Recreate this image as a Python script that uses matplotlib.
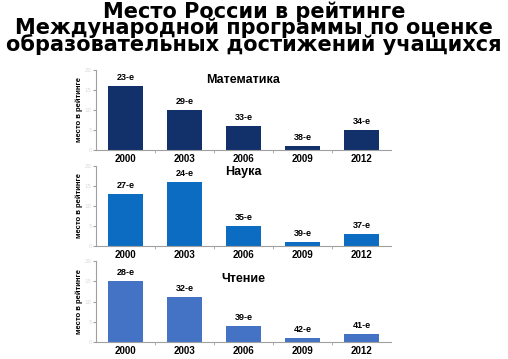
import matplotlib
matplotlib.use("Agg")
import matplotlib.pyplot as plt

years = ["2000", "2003", "2006", "2009", "2012"]
math_rank = [23, 29, 33, 38, 34]
sci_rank = [27, 24, 35, 39, 37]
read_rank = [28, 32, 39, 42, 41]
# bar heights as drawn in the reference (inverted rank scale)
math_vals = [16, 10, 6, 1, 5]
sci_vals = [13, 16, 5, 1, 3]
read_vals = [15, 11, 4, 1, 2]
panel_titles = ["Математика", "Наука", "Чтение"]
colors = ["#12306A", "#0B6CC2", "#4472C4"]
ylabel = "место в рейтинге"
title = ("Место России в рейтинге\n"
         "Международной программы по оценке\n"
         "образовательных достижений учащихся")

fig = plt.figure(figsize=(5.08, 3.59), dpi=100)
fig.patch.set_facecolor("white")

H = 359.0
W = 508.0
fig.text(0.5, 1 - 28 / H, title, ha="center", va="center", fontsize=15,
         fontweight="bold", family="DejaVu Sans", linespacing=0.74, multialignment="center")

panels = [(70, 150), (166, 246), (261, 342)]
title_y = [0.88, 0.92, 0.78]
data = [(math_vals, math_rank), (sci_vals, sci_rank), (read_vals, read_rank)]

for i, ((top, bot), (vals, ranks)) in enumerate(zip(panels, data)):
    ax = fig.add_axes([96 / W, 1 - bot / H, (391 - 96) / W, (bot - top) / H])
    x = range(len(years))
    bars = ax.bar(x, vals, width=0.58, color=colors[i], zorder=2)
    ax.set_xlim(-0.5, len(years) - 0.5)
    ax.set_ylim(0, 20)
    ax.set_yticks([0, 5, 10, 15, 20])
    ax.tick_params(axis="y", labelsize=4, labelcolor="#d8d8d8", length=2, color="#a0a0a0", pad=1)
    ax.set_xticks(x)
    ax.set_xticklabels(years, fontsize=7, fontweight="bold", family="Liberation Sans")
    ax.tick_params(axis="x", length=0, pad=3)
    ax.set_xticks([k + 0.5 for k in range(len(years) - 1)], minor=True)
    ax.tick_params(axis="x", which="minor", length=2, color="#a0a0a0", direction="out")
    for s in ["top", "right"]:
        ax.spines[s].set_visible(False)
    ax.spines["left"].set_color("#a0a0a0")
    ax.spines["bottom"].set_color("#a0a0a0")
    ax.set_ylabel(ylabel, fontsize=5.5, fontweight="bold", family="Liberation Sans", labelpad=1)
    for b, r in zip(bars, ranks):
        ax.annotate(f"{r}-е", (b.get_x() + b.get_width() / 2, b.get_height()),
                    xytext=(0, 3), textcoords="offset points", ha="center", va="bottom",
                    fontsize=6.5, fontweight="bold", family="Liberation Sans")
    ax.text(0.5, title_y[i], panel_titles[i], transform=ax.transAxes, ha="center", va="center",
            fontsize=9, fontweight="bold", family="Liberation Sans")
    ax.set_facecolor("white")

fig.savefig("out.png", dpi=100, facecolor="white")
